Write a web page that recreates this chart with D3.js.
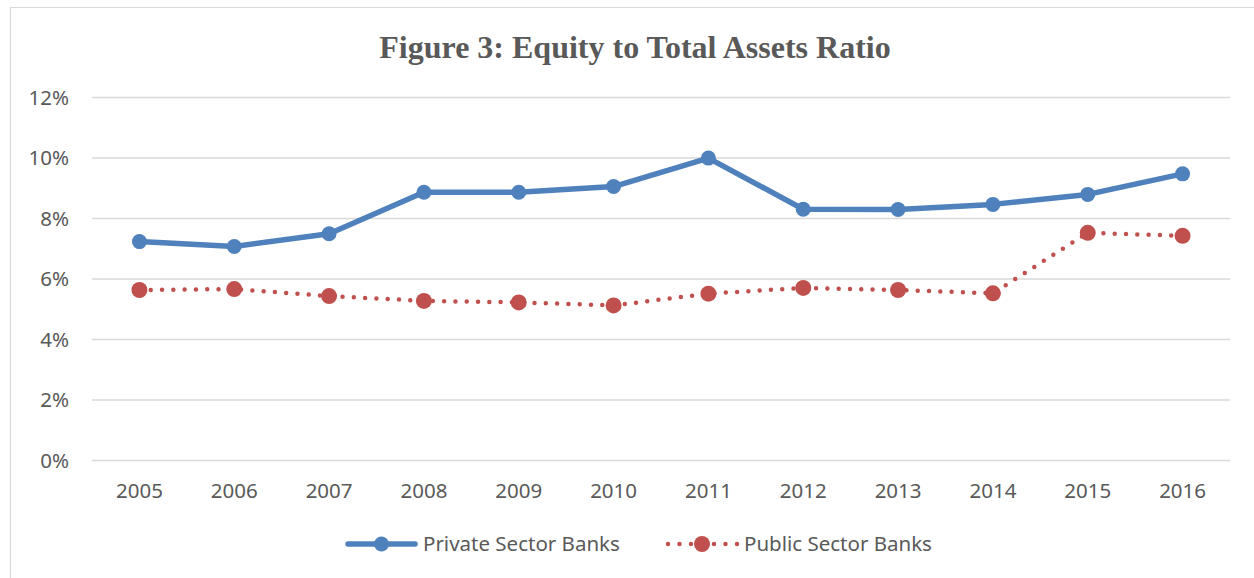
<!DOCTYPE html>
<html>
<head>
<meta charset="utf-8">
<script src="https://cdn.jsdelivr.net/npm/d3@7"></script>
<style>
  html, body { margin: 0; padding: 0; background: #fff; }
  svg { display: block; }
</style>
</head>
<body>
<svg id="chart" width="1254" height="578"></svg>
<script>
// Equity to total assets ratio (%) by year
const years = ["2005","2006","2007","2008","2009","2010","2011","2012","2013","2014","2015","2016"];
const privateBanks = [7.22, 7.06, 7.48, 8.85, 8.85, 9.04, 9.98, 8.29, 8.28, 8.45, 8.78, 9.46];
const publicBanks  = [5.62, 5.65, 5.42, 5.26, 5.21, 5.11, 5.50, 5.69, 5.62, 5.51, 7.51, 7.41];
const yTicks = [0, 2, 4, 6, 8, 10, 12];
const seriesNames = ["Private Sector Banks", "Public Sector Banks"];

const W = 1254, H = 578;
const margin = { left: 92, right: 24, top: 97, bottom: 118 };
const svg = d3.select("#chart");

// chart area frame
svg.append("path")
  .attr("d", `M10.5,${H} V7.5 H${W}`)
  .attr("fill", "none")
  .attr("stroke", "#d9d9d9")
  .attr("stroke-width", 1.2);

const x = d3.scaleBand().domain(years).range([margin.left, W - margin.right]);
const y = d3.scaleLinear().domain([0, 12]).range([H - margin.bottom, margin.top]);

const textColor = "#595959";
const sans = "'Noto Sans', 'Open Sans', sans-serif";
const labelSize = 20.5;

// title
svg.append("text")
  .attr("x", 635).attr("y", 58)
  .attr("text-anchor", "middle")
  .attr("font-family", "'Liberation Serif', 'Times New Roman', serif")
  .attr("font-weight", "bold")
  .attr("font-size", 32)
  .attr("fill", textColor)
  .text("Figure 3: Equity to Total Assets Ratio");

// gridlines + y labels
const yAxis = d3.axisLeft(y)
  .tickValues(yTicks)
  .tickSize(-(W - margin.left - margin.right))
  .tickPadding(23)
  .tickFormat(d => d + "%");
const gy = svg.append("g").attr("transform", `translate(${margin.left},0)`).call(yAxis);
gy.select(".domain").remove();
gy.selectAll(".tick line").attr("stroke", "#d9d9d9").attr("stroke-width", 1.3);
gy.selectAll(".tick text")
  .attr("font-family", sans).attr("font-size", labelSize).attr("fill", textColor)
  .attr("dy", "0.36em");

// x labels
const xAxis = d3.axisBottom(x).tickSize(0).tickPadding(23);
const gx = svg.append("g").attr("transform", `translate(0,${y(0)})`).call(xAxis);
gx.select(".domain").remove();
gx.selectAll(".tick text")
  .attr("font-family", sans).attr("font-size", labelSize).attr("fill", textColor);

const cx = d => x(d) + x.bandwidth() / 2;
const blue = "#4f81bd", red = "#c0504d";

const line = d3.line().x(d => cx(d.year)).y(d => y(d.v));
const privData = years.map((yr, i) => ({ year: yr, v: privateBanks[i] }));
const pubData = years.map((yr, i) => ({ year: yr, v: publicBanks[i] }));

// public sector: round-dot line
svg.append("path").datum(pubData)
  .attr("d", line).attr("fill", "none")
  .attr("stroke", red).attr("stroke-width", 4.5)
  .attr("stroke-linecap", "round")
  .attr("stroke-dasharray", "0 11.3");
svg.append("g").selectAll("circle").data(pubData).join("circle")
  .attr("cx", d => cx(d.year)).attr("cy", d => y(d.v)).attr("r", 8)
  .attr("fill", red);

// private sector: solid line
svg.append("path").datum(privData)
  .attr("d", line).attr("fill", "none")
  .attr("stroke", blue).attr("stroke-width", 5.5)
  .attr("stroke-linejoin", "round");
svg.append("g").selectAll("circle").data(privData).join("circle")
  .attr("cx", d => cx(d.year)).attr("cy", d => y(d.v)).attr("r", 7.5)
  .attr("fill", blue);

// legend
const ly = 544;
const lg = svg.append("g");
lg.append("line").attr("x1", 348).attr("x2", 415).attr("y1", ly).attr("y2", ly)
  .attr("stroke", blue).attr("stroke-width", 5.5).attr("stroke-linecap", "round");
lg.append("circle").attr("cx", 381.5).attr("cy", ly).attr("r", 7.5).attr("fill", blue);
lg.append("text").attr("x", 423).attr("y", ly).attr("dy", "0.36em")
  .attr("font-family", sans).attr("font-size", labelSize).attr("fill", textColor)
  .text(seriesNames[0]);

lg.append("line").attr("x1", 668).attr("x2", 738).attr("y1", ly).attr("y2", ly)
  .attr("stroke", red).attr("stroke-width", 4.5).attr("stroke-linecap", "round")
  .attr("stroke-dasharray", "0 11.5");
lg.append("circle").attr("cx", 702).attr("cy", ly).attr("r", 8).attr("fill", red);
lg.append("text").attr("x", 744).attr("y", ly).attr("dy", "0.36em")
  .attr("font-family", sans).attr("font-size", labelSize).attr("fill", textColor)
  .text(seriesNames[1]);
</script>
</body>
</html>
